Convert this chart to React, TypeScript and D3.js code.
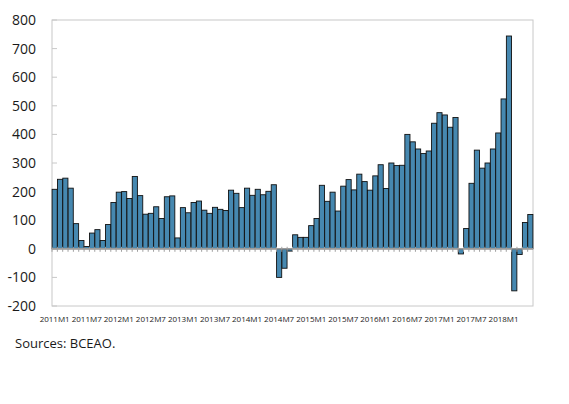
import React from "react";
import * as d3 from "d3";

const years = [2011, 2012, 2013, 2014, 2015, 2016, 2017, 2018];
const values = [
  208, 243, 247, 212, 88, 29, 8, 55, 67, 29, 85, 162,
  198, 200, 176, 253, 186, 121, 124, 147, 106, 182, 185, 38,
  144, 126, 162, 167, 135, 124, 145, 138, 134, 205, 194, 144,
  212, 187, 208, 189, 201, 224, -100, -68, -8, 49, 40, 40,
  81, 106, 222, 166, 198, 132, 219, 242, 206, 261, 235, 205,
  255, 294, 211, 300, 291, 292, 400, 374, 349, 333, 342, 439,
  476, 468, 425, 459, -18, 71, 229, 345, 282, 300, 349, 405,
  524, 744, -147, -20, 92, 120,
];
const months = values.map((_, i) => `${years[Math.floor(i / 12)]}M${(i % 12) + 1}`);
const yTicks = [-200, -100, 0, 100, 200, 300, 400, 500, 600, 700, 800];
const source = "Sources: BCEAO.";

export default function App() {
  const W = 569, H = 404;
  const left = 52, right = 533, top = 20, bottom = 306;
  const x = d3.scaleBand<string>().domain(months).range([left, right]).paddingInner(0.04).paddingOuter(0.02);
  const y = d3.scaleLinear().domain([-200, 800]).range([bottom, top]);
  const y0 = y(0);
  const step = x.step();
  const font = "'Open Sans', 'Noto Sans', sans-serif";
  return (
    <svg width={W} height={H} style={{ position: "absolute", left: 0, top: 0, background: "#fff" }}>
      <rect x={left} y={top} width={right - left} height={bottom - top} fill="none" stroke="#c8c8c8" strokeWidth={1} />
      {yTicks.map((t) => (
        <g key={t}>
          <line x1={left} x2={left + 5} y1={y(t)} y2={y(t)} stroke="#c8c8c8" />
          <text x={36} y={y(t)} dy="0.35em" textAnchor="end" fontSize={14} fontFamily={font} fill="#1a1a1a">
            {t}
          </text>
        </g>
      ))}
      {values.map((v, i) => {
        const m = months[i];
        const bx = x(m)!;
        const yt = y(Math.max(v, 0));
        const yb = y(Math.min(v, 0));
        return (
          <rect key={m} x={bx} y={yt} width={x.bandwidth()} height={Math.max(yb - yt, 0.5)}
            fill="#4688b0" stroke="#111" strokeWidth={0.9} />
        );
      })}
      <line x1={left} x2={right} y1={y0} y2={y0} stroke="#9a9a9a" strokeWidth={1.5} />
      {months.map((m, i) => (
        <line key={"t" + m} x1={left + (x.paddingOuter() * step) + i * step - (step - x.bandwidth()) / 2}
          x2={left + (x.paddingOuter() * step) + i * step - (step - x.bandwidth()) / 2}
          y1={y0 - 2} y2={y0 + 3} stroke="#a0a0a0" strokeWidth={1} />
      ))}
      {months.map((m, i) =>
        i % 6 === 0 ? (
          <text key={"l" + m} x={x(m)! + x.bandwidth() / 2} y={322} textAnchor="middle" fontSize={8}
            fontFamily={font} fill="#1a1a1a">
            {m}
          </text>
        ) : null
      )}
      <text x={15} y={348} fontSize={13} fontFamily={font} fill="#1a1a1a">
        {source}
      </text>
    </svg>
  );
}
